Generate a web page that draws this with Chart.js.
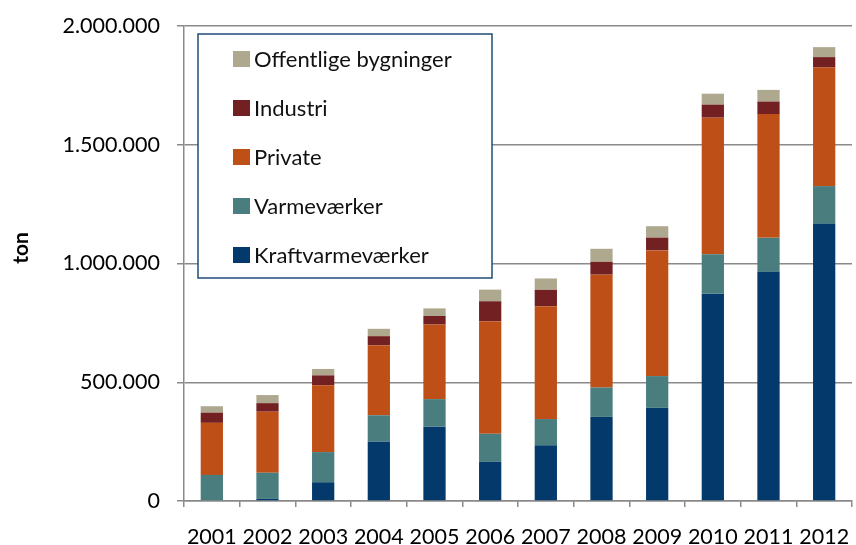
<!DOCTYPE html>
<html>
<head>
<meta charset="utf-8">
<script src="https://cdn.jsdelivr.net/npm/chart.js@4/dist/chart.umd.min.js"></script>
<style>
  html, body { margin: 0; padding: 0; background: #fff; }
  #wrap { width: 856px; height: 545px; }
</style>
</head>
<body>
<div id="wrap"><canvas id="chart" width="856" height="545"></canvas></div>
<script>
// Data (ton)
const years = ['2001', '2002', '2003', '2004', '2005', '2006', '2007', '2008', '2009', '2010', '2011', '2012'];
const kraftvarme = [0, 9000, 79000, 251000, 313000, 165000, 235000, 354000, 392000, 873000, 965000, 1167000];
const varmevaerker = [110000, 110000, 127000, 110000, 116000, 118000, 110000, 124000, 134000, 166000, 143000, 159000];
const privat = [219000, 257000, 281000, 295000, 314000, 474000, 475000, 475000, 529000, 575000, 521000, 499000];
const industri = [43000, 36000, 42000, 38000, 36000, 84000, 69000, 54000, 54000, 55000, 53000, 44000];
const offentlige = [27000, 34000, 27000, 31000, 32000, 49000, 48000, 55000, 48000, 46000, 49000, 42000];
const yTicks = [0, 500000, 1000000, 1500000, 2000000];

const FONT = 'Lato, "Open Sans", sans-serif';

// dansk tusindtalsseparator
function fmt(v) {
  return String(v).replace(/\B(?=(\d{3})+(?!\d))/g, '.');
}

// legend i en boks inde i plotområdet + y-akse titel
const boxLegend = {
  id: 'boxLegend',
  afterDraw(chart) {
    const ctx = chart.ctx;
    ctx.save();
    ctx.fillStyle = '#fff';
    ctx.fillRect(198, 34, 294, 244);
    ctx.strokeStyle = '#1F4E79';
    ctx.lineWidth = 1.5;
    ctx.strokeRect(198, 34, 294, 244);

    const ds = chart.data.datasets.slice().reverse();
    ctx.font = '22px ' + FONT;
    ctx.textBaseline = 'middle';
    ds.forEach((d, i) => {
      const y = 59 + i * 49;
      ctx.fillStyle = d.backgroundColor;
      ctx.fillRect(233, y - 8, 17, 16);
      ctx.fillStyle = '#111';
      ctx.fillText(d.label, 254, y + 1);
    });

    ctx.translate(21, 248);
    ctx.rotate(-Math.PI / 2);
    ctx.font = 'bold 21px ' + FONT;
    ctx.textAlign = 'center';
    ctx.fillStyle = '#000';
    ctx.fillText('ton', 0, 0);
    ctx.restore();
  }
};

new Chart(document.getElementById('chart'), {
  type: 'bar',
  data: {
    labels: years,
    datasets: [
      { label: 'Kraftvarmeværker', data: kraftvarme, backgroundColor: '#033A6B' },
      { label: 'Varmeværker', data: varmevaerker, backgroundColor: '#497D7E' },
      { label: 'Private', data: privat, backgroundColor: '#BE5017' },
      { label: 'Industri', data: industri, backgroundColor: '#722022' },
      { label: 'Offentlige bygninger', data: offentlige, backgroundColor: '#AEA88F' }
    ]
  },
  options: {
    responsive: false,
    animation: false,
    devicePixelRatio: 1,
    layout: { padding: { top: 26, right: 4, left: 0, bottom: 0 } },
    datasets: { bar: { categoryPercentage: 1, barPercentage: 0.4 } },
    plugins: { legend: { display: false }, tooltip: { enabled: false } },
    scales: {
      x: {
        stacked: true,
        grid: { drawOnChartArea: false, drawTicks: true, tickLength: 6, color: '#8a8a8a', lineWidth: 1.5 },
        border: { color: '#8a8a8a', width: 1.5 },
        ticks: { color: '#000', font: { family: FONT, size: 21.5 }, padding: 17, maxRotation: 0 },
        afterFit(scale) {
          scale.height = 44;
          scale.paddingLeft = 0;
          scale.paddingRight = 0;
        }
      },
      y: {
        stacked: true,
        min: 0,
        max: 2000000,
        afterBuildTicks(scale) { scale.ticks = yTicks.map(v => ({ value: v })); },
        grid: { color: '#8a8a8a', lineWidth: 1.5, tickLength: 7 },
        border: { color: '#8a8a8a', width: 1.5 },
        ticks: { color: '#000', font: { family: FONT, size: 21.5 }, padding: 17, callback: v => fmt(v) },
        afterFit(scale) {
          scale.width = 184;
          scale.paddingTop = 0;
          scale.paddingBottom = 0;
        }
      }
    }
  },
  plugins: [boxLegend]
});
</script>
</body>
</html>
